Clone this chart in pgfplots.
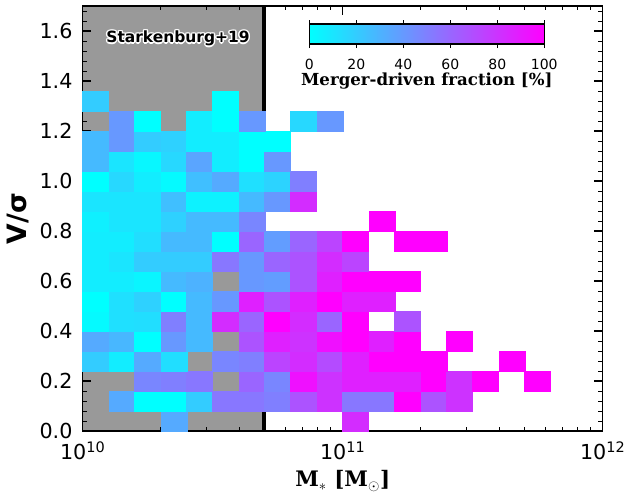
\documentclass[border=0pt]{standalone}
\usepackage{pgfplots}
\usepackage{pgfplotstable}
\pgfplotsset{compat=1.18}
\usepackage{fontspec}
\setmainfont{DejaVu Sans}
\newfontfamily\dvserif{DejaVu Serif}
\newfontfamily\dvsans{DejaVu Sans}
\definecolor{graybg}{rgb}{0.6,0.6,0.6}
\pgfplotsset{colormap={coolmap}{rgb255(0cm)=(0,255,255); rgb255(1cm)=(255,0,255)}}
\pgfdeclareplotmark{cell}{%
  \pgfpathrectangle{\pgfpoint{-9.75pt}{-7.5pt}}{\pgfpoint{19.5pt}{15pt}}%
  \pgfusepath{fill,stroke}}

\pgfplotstableread{
x y c
2.239e10 0.04 33
1.122e11 0.04 82
1.413e10 0.12 33
1.778e10 0.12 0
2.239e10 0.12 0
2.818e10 0.12 20
3.548e10 0.12 53
4.467e10 0.12 53
5.623e10 0.12 50
7.079e10 0.12 67
8.913e10 0.12 80
1.122e11 0.12 53
1.413e11 0.12 53
1.778e11 0.12 100
2.239e11 0.12 67
2.818e11 0.12 80
1.778e10 0.20 47
2.239e10 0.20 50
2.818e10 0.20 53
4.467e10 0.20 60
5.623e10 0.20 47
7.079e10 0.20 93
8.913e10 0.20 80
1.122e11 0.20 87
1.413e11 0.20 87
1.778e11 0.20 87
2.239e11 0.20 100
2.818e11 0.20 80
3.548e11 0.20 100
5.623e11 0.20 100
1.122e10 0.28 20
1.413e10 0.28 7
1.778e10 0.28 33
2.239e10 0.28 13
3.548e10 0.28 47
4.467e10 0.28 50
5.623e10 0.28 73
7.079e10 0.28 82
8.913e10 0.28 70
1.122e11 0.28 87
1.413e11 0.28 100
1.778e11 0.28 100
2.239e11 0.28 100
4.467e11 0.28 100
1.122e10 0.36 33
1.413e10 0.36 28
1.778e10 0.36 0
2.239e10 0.36 40
2.818e10 0.36 27
4.467e10 0.36 67
5.623e10 0.36 87
7.079e10 0.36 80
8.913e10 0.36 93
1.122e11 0.36 100
1.413e11 0.36 87
1.778e11 0.36 100
2.818e11 0.36 100
1.122e10 0.44 2
1.413e10 0.44 12
1.778e10 0.44 13
2.239e10 0.44 50
2.818e10 0.44 27
3.548e10 0.44 82
4.467e10 0.44 60
5.623e10 0.44 100
7.079e10 0.44 82
8.913e10 0.44 60
1.122e11 0.44 100
1.778e11 0.44 67
1.122e10 0.52 0
1.413e10 0.52 12
1.778e10 0.52 18
2.239e10 0.52 0
2.818e10 0.52 27
3.548e10 0.52 40
4.467e10 0.52 87
5.623e10 0.52 67
7.079e10 0.52 87
8.913e10 0.52 100
1.122e11 0.52 87
1.413e11 0.52 87
1.122e10 0.60 7
1.413e10 0.60 7
1.778e10 0.60 4
2.239e10 0.60 27
2.818e10 0.60 30
4.467e10 0.60 40
5.623e10 0.60 38
7.079e10 0.60 67
8.913e10 0.60 87
1.122e11 0.60 100
1.413e11 0.60 100
1.778e11 0.60 100
1.122e10 0.68 7
1.413e10 0.68 10
1.778e10 0.68 20
2.239e10 0.68 20
2.818e10 0.68 20
3.548e10 0.68 53
4.467e10 0.68 40
5.623e10 0.68 60
7.079e10 0.68 67
8.913e10 0.68 82
1.122e11 0.68 73
1.122e10 0.76 7
1.413e10 0.76 7
1.778e10 0.76 13
2.239e10 0.76 27
2.818e10 0.76 27
3.548e10 0.76 0
4.467e10 0.76 60
5.623e10 0.76 38
7.079e10 0.76 60
8.913e10 0.76 73
1.122e11 0.76 100
1.778e11 0.76 100
2.239e11 0.76 100
1.122e10 0.84 6
1.413e10 0.84 10
1.778e10 0.84 10
2.239e10 0.84 18
2.818e10 0.84 27
3.548e10 0.84 27
4.467e10 0.84 47
1.413e11 0.84 100
1.122e10 0.92 10
1.413e10 0.92 10
1.778e10 0.92 10
2.239e10 0.92 25
2.818e10 0.92 5
3.548e10 0.92 5
4.467e10 0.92 27
5.623e10 0.92 40
7.079e10 0.92 82
1.122e10 1.00 0
1.413e10 1.00 15
1.778e10 1.00 7
2.239e10 1.00 2
2.818e10 1.00 25
3.548e10 1.00 33
4.467e10 1.00 12
5.623e10 1.00 17
7.079e10 1.00 50
1.122e10 1.08 27
1.413e10 1.08 10
1.778e10 1.08 3
2.239e10 1.08 15
2.818e10 1.08 35
3.548e10 1.08 7
4.467e10 1.08 0
5.623e10 1.08 40
1.122e10 1.16 27
1.413e10 1.16 40
1.778e10 1.16 20
2.239e10 1.16 18
2.818e10 1.16 7
3.548e10 1.16 7
4.467e10 1.16 0
5.623e10 1.16 0
1.413e10 1.24 40
1.778e10 1.24 0
2.818e10 1.24 7
3.548e10 1.24 0
4.467e10 1.24 40
7.079e10 1.24 15
8.913e10 1.24 40
1.122e10 1.32 20
3.548e10 1.32 0
}\cells

\begin{document}
\begin{tikzpicture}
\useasboundingbox (-62pt,-46.5pt) rectangle (412pt,323.25pt);
\begin{axis}[
  at={(0pt,0pt)}, anchor=south west,
  scale only axis, width=390pt, height=318.75pt,
  xmode=log, xmin=1e10, xmax=1e12, ymin=0, ymax=1.7,
  xtick={1e10,1e11,1e12},
  xticklabels={10\textsuperscript{10},10\textsuperscript{11},10\textsuperscript{12}},
  minor xtick={2e10,3e10,4e10,5e10,6e10,7e10,8e10,9e10,2e11,3e11,4e11,5e11,6e11,7e11,8e11,9e11},
  ytick={0,0.2,0.4,0.6,0.8,1.0,1.2,1.4,1.6},
  yticklabels={0.0,0.2,0.4,0.6,0.8,1.0,1.2,1.4,1.6},
  minor ytick={0.04,0.08,0.12,0.16,0.24,0.28,0.32,0.36,0.44,0.48,0.52,0.56,0.64,0.68,0.72,0.76,0.84,0.88,0.92,0.96,1.04,1.08,1.12,1.16,1.24,1.28,1.32,1.36,1.44,1.48,1.52,1.56,1.64,1.68},
  tick align=inside, tick pos=both,
  major tick length=6.5pt, minor tick length=3.2pt,
  every major tick/.append style={black, line width=0.9pt},
  every minor tick/.append style={black, line width=0.7pt},
  axis line style={line width=1pt},
  axis on top,
  xticklabel style={font=\fontsize{15.5}{18}\selectfont, anchor=base, yshift=-21pt},
  yticklabel style={font=\fontsize{15.5}{18}\selectfont, anchor=east, inner sep=0pt, xshift=-7.5pt},
  xlabel={\dvserif\bfseries M$_{\ast}$ {[}M$_{\odot}${]}},
  xlabel style={at={(axis description cs:0.5,0)}, anchor=base, yshift=-41.8pt, font=\fontsize{16}{18}\selectfont},
  ylabel={\dvsans\bfseries V/σ},
  ylabel style={at={(axis description cs:-0.1238,0.5)}, anchor=center, font=\fontsize{20}{24}\selectfont},
  colormap name=coolmap,
  point meta min=0, point meta max=100,
  colorbar horizontal,
  colorbar style={
    at={(parent axis.north west)},
    anchor=north west,
    xshift=169.95pt, yshift=-5pt,
    scale only axis,
    width=176.25pt, height=15pt,
    xtick={0,20,40,60,80,100},
    xticklabels={0,20,40,60,80,100},
    xtick align=outside,
    major tick length=3pt,
    every major tick/.append style={black, line width=0.7pt},
    axis line style={line width=0.9pt},
    xticklabel style={font=\fontsize{10.5}{12}\selectfont, anchor=base, yshift=-16pt},
    xlabel={\dvserif\bfseries Merger-driven fraction {[}\%{]}},
    xlabel style={at={(axis description cs:0.5,0)}, anchor=base, yshift=-30.75pt, font=\fontsize{12.45}{14}\selectfont},
  },
]
\addplot[fill=graybg, draw=none, forget plot] coordinates {(1e10,0) (5e10,0) (5e10,1.7) (1e10,1.7) (1e10,0)};
\addplot[scatter, only marks, mark=cell, scatter src=explicit,
  scatter/use mapped color={draw=mapped color, fill=mapped color},
  mark options={line width=0.3pt}] table[x=x, y=y, meta=c] {\cells};
\addplot[black, line width=3pt, forget plot] coordinates {(5e10,0) (5e10,1.7)};
\end{axis}
\foreach \a in {0,45,...,315}
  \node[anchor=base, text=white, shift={(\a:1.1pt)}, font=\dvsans\bfseries\fontsize{11.6}{14}\selectfont] at (71.5pt,291.2pt) {Starkenburg+19};
\node[anchor=base, text=black, font=\dvsans\bfseries\fontsize{11.6}{14}\selectfont] at (71.5pt,291.2pt) {Starkenburg+19};
\end{tikzpicture}
\end{document}
